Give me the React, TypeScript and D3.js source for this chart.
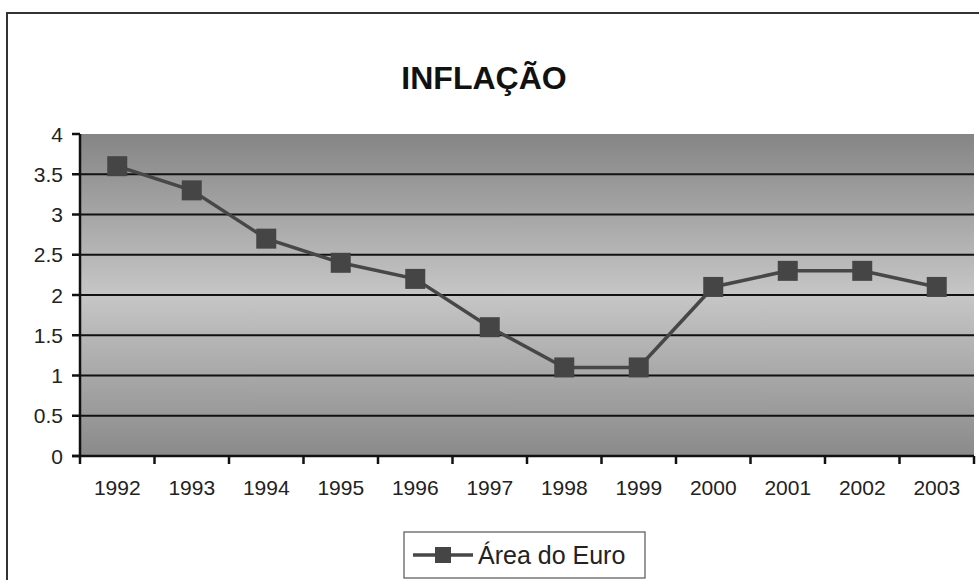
import React from "react";
import * as d3 from "d3";

const years = ["1992","1993","1994","1995","1996","1997","1998","1999","2000","2001","2002","2003"];
const values = [3.6, 3.3, 2.7, 2.4, 2.2, 1.6, 1.1, 1.1, 2.1, 2.3, 2.3, 2.1];
const yTicks = [0, 0.5, 1, 1.5, 2, 2.5, 3, 3.5, 4];
const title = "INFLAÇÃO";
const seriesName = "Área do Euro";

export default function App() {
  const W = 979, H = 580;
  const left = 80, right = 974, top = 134, bottom = 456;
  const x = d3.scaleBand<string>().domain(years).range([left, right]).padding(0);
  const y = d3.scaleLinear().domain([0, 4]).range([bottom, top]);
  const line = d3.line<number>().x((_, i) => (x(years[i]) as number) + x.bandwidth() / 2).y(d => y(d));
  const font = "Arial, 'Liberation Sans', sans-serif";
  const boundaries = years.map(yr => x(yr) as number).concat([right]);
  const ms = 20;
  return (
    <svg width={W} height={H} style={{ position: "absolute", left: 0, top: 0, background: "#fff" }} fontFamily={font}>
      <defs>
        <linearGradient id="bg" x1="0" y1="0" x2="0" y2="1">
          <stop offset="0" stopColor="#858585" />
          <stop offset="0.5" stopColor="#c6c6c6" />
          <stop offset="1" stopColor="#8a8a8a" />
        </linearGradient>
      </defs>
      <rect x={0} y={0} width={W} height={H} fill="#fff" />
      <path d={`M7,${H + 5} V13 H${W + 5}`} fill="none" stroke="#333" strokeWidth={2} />
      <text x={484} y={89} textAnchor="middle" fontSize={32} fontWeight="bold" fill="#111">{title}</text>
      <rect x={left} y={top} width={right - left} height={bottom - top} fill="url(#bg)" />
      {yTicks.filter(t => t > 0 && t < 4).map(t => (
        <line key={t} x1={left} x2={right} y1={y(t)} y2={y(t)} stroke="#111" strokeWidth={2} />
      ))}
      {yTicks.map(t => (
        <g key={"yt" + t}>
          <line x1={left - 8} x2={left} y1={y(t)} y2={y(t)} stroke="#111" strokeWidth={2.5} />
          <text x={63} y={y(t)} dy="0.36em" textAnchor="end" fontSize={21} fill="#222">{t}</text>
        </g>
      ))}
      <line x1={left} x2={left} y1={top} y2={bottom} stroke="#111" strokeWidth={2.5} />
      <line x1={left - 8} x2={right} y1={bottom} y2={bottom} stroke="#111" strokeWidth={2.5} />
      {boundaries.map((b, i) => (
        <line key={"xt" + i} x1={b} x2={b} y1={bottom} y2={bottom + 8} stroke="#111" strokeWidth={2.5} />
      ))}
      {years.map(yr => (
        <text key={yr} x={(x(yr) as number) + x.bandwidth() / 2} y={495} textAnchor="middle" fontSize={21} fill="#222">{yr}</text>
      ))}
      <path d={line(values) || ""} fill="none" stroke="#474747" strokeWidth={3.5} />
      {values.map((v, i) => (
        <rect key={i} x={(x(years[i]) as number) + x.bandwidth() / 2 - ms / 2} y={y(v) - ms / 2} width={ms} height={ms} fill="#454545" />
      ))}
      <rect x={404} y={532} width={241} height={46} fill="#fff" stroke="#555" strokeWidth={1.2} />
      <line x1={413} x2={473} y1={555} y2={555} stroke="#474747" strokeWidth={3.5} />
      <rect x={443 - 8} y={555 - 8} width={16} height={16} fill="#454545" />
      <text x={478} y={564} fontSize={25} fill="#222">{seriesName}</text>
    </svg>
  );
}
